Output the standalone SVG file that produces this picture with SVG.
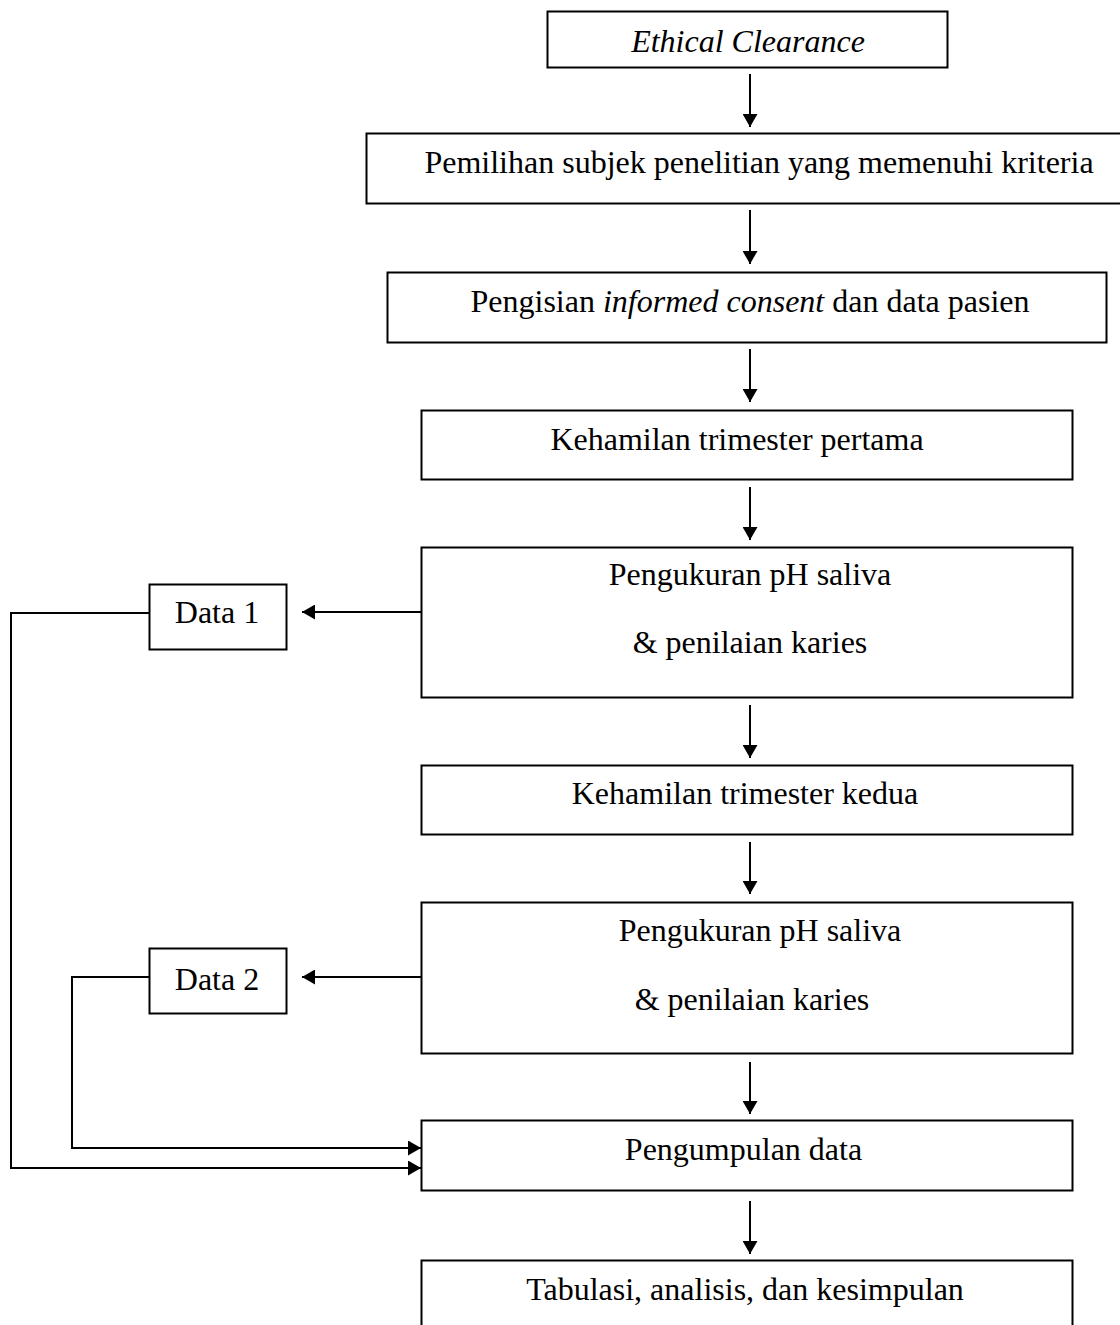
<svg xmlns="http://www.w3.org/2000/svg" width="1120" height="1325" viewBox="0 0 1120 1325">
<defs>
<style>
.box{fill:#fff;stroke:#000;stroke-width:2}
.t{font-family:"Liberation Serif","Times New Roman",serif;font-size:32px;fill:#000;text-anchor:middle}
.i{font-style:italic}
.c{fill:none;stroke:#000;stroke-width:2}
</style>
<marker id="ah" viewBox="0 0 13 15" refX="13" refY="7.5" markerWidth="13" markerHeight="15" markerUnits="userSpaceOnUse" orient="auto">
<path d="M0,0 L13,7.5 L0,15 Z" fill="#000"/>
</marker>
</defs>
<rect width="1120" height="1325" fill="#fff"/>
<g id="n1"><rect class="box" x="547.5" y="11.5" width="400" height="56"/><text class="t i" x="748" y="52">Ethical Clearance</text></g>
<g id="n2"><rect class="box" x="366.5" y="133.5" width="760" height="70"/><text class="t" x="759" y="173">Pemilihan subjek penelitian yang memenuhi kriteria</text></g>
<g id="n3"><rect class="box" x="387.5" y="272.5" width="719" height="70"/><text class="t" x="750" y="312">Pengisian <tspan class="i">informed consent</tspan> dan data pasien</text></g>
<g id="n4"><rect class="box" x="421.5" y="410.5" width="651" height="69"/><text class="t" x="737" y="450">Kehamilan trimester pertama</text></g>
<g id="n5"><rect class="box" x="421.5" y="547.5" width="651" height="150"/><text class="t" x="750" y="585">Pengukuran pH saliva</text><text class="t" x="750" y="653">&amp; penilaian karies</text></g>
<g id="n6"><rect class="box" x="421.5" y="765.5" width="651" height="69"/><text class="t" x="745" y="804">Kehamilan trimester kedua</text></g>
<g id="n7"><rect class="box" x="421.5" y="902.5" width="651" height="151"/><text class="t" x="760" y="941">Pengukuran pH saliva</text><text class="t" x="752" y="1010">&amp; penilaian karies</text></g>
<g id="n8"><rect class="box" x="421.5" y="1120.5" width="651" height="70"/><text class="t" x="743.5" y="1160">Pengumpulan data</text></g>
<g id="n9"><rect class="box" x="421.5" y="1260.5" width="651" height="80"/><text class="t" x="745" y="1300">Tabulasi, analisis, dan kesimpulan</text></g>
<g id="d1"><rect class="box" x="149.5" y="584.5" width="137" height="65"/><text class="t" x="217" y="623">Data 1</text></g>
<g id="d2"><rect class="box" x="149.5" y="948.5" width="137" height="65"/><text class="t" x="217" y="990">Data 2</text></g>
<g id="connectors">
<line class="c" x1="750" y1="74" x2="750" y2="127" marker-end="url(#ah)"/>
<line class="c" x1="750" y1="210" x2="750" y2="264" marker-end="url(#ah)"/>
<line class="c" x1="750" y1="349" x2="750" y2="402" marker-end="url(#ah)"/>
<line class="c" x1="750" y1="487" x2="750" y2="540" marker-end="url(#ah)"/>
<line class="c" x1="750" y1="705" x2="750" y2="758" marker-end="url(#ah)"/>
<line class="c" x1="750" y1="842" x2="750" y2="894" marker-end="url(#ah)"/>
<line class="c" x1="750" y1="1062" x2="750" y2="1114" marker-end="url(#ah)"/>
<line class="c" x1="750" y1="1201" x2="750" y2="1254" marker-end="url(#ah)"/>
<line class="c" x1="421" y1="612" x2="302" y2="612" marker-end="url(#ah)"/>
<line class="c" x1="421" y1="977" x2="302" y2="977" marker-end="url(#ah)"/>
<polyline class="c" points="149,613 11,613 11,1168 421,1168" marker-end="url(#ah)"/>
<polyline class="c" points="149,977 72,977 72,1148 421,1148" marker-end="url(#ah)"/>
</g>
</svg>
